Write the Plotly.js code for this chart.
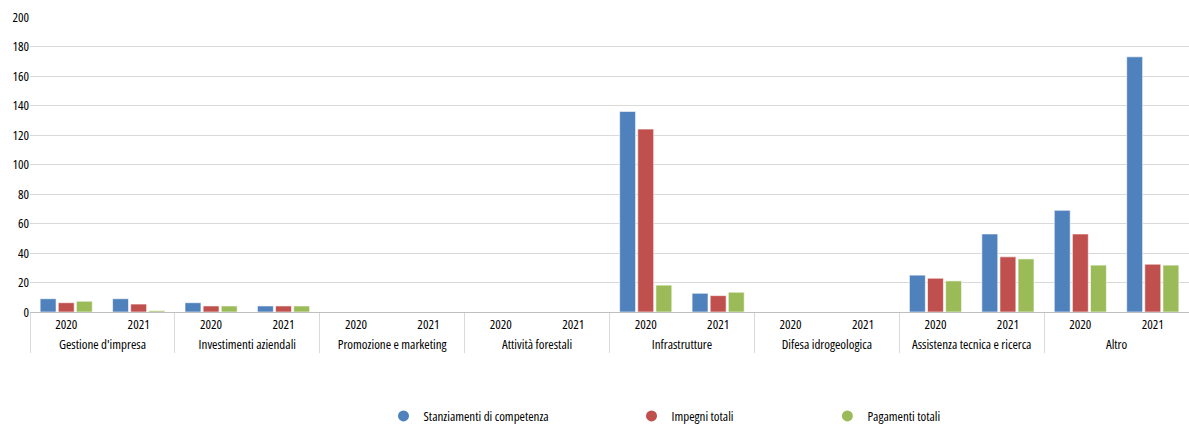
<!DOCTYPE html>
<html>
<head>
<meta charset="utf-8">
<script src="https://cdn.plot.ly/plotly-3.0.1.min.js"></script>
<style>
  html, body { margin: 0; padding: 0; background: #fff; }
  #chart { width: 1189px; height: 425px; }
  /* narrow lettering for all chart text (also used when Plotly measures labels) */
  svg text { font-stretch: 75% !important; }
</style>
</head>
<body>
<div id="chart"></div>
<script>
// Categories (outer level) and years (inner level)
const categories = [
  "Gestione d'impresa", "Investimenti aziendali", "Promozione e marketing",
  "Attività forestali", "Infrastrutture", "Difesa idrogeologica",
  "Assistenza tecnica e ricerca", "Altro"
];
const years = ["2020", "2021"];

// Values per category/year pair, in the order of the x axis below
const stanziamenti = [9.0, 9.0, 6.3, 4.1, 0, 0, 0, 0, 136, 12.7, 0, 0, 25.0, 52.9, 68.9, 173];
const impegni      = [6.3, 5.4, 4.1, 4.1, 0, 0, 0, 0, 124, 11.1, 0, 0, 22.9, 37.4, 52.9, 32.4];
const pagamenti    = [7.3, 0.9, 4.1, 4.1, 0, 0, 0, 0, 18.2, 13.4, 0, 0, 21.1, 36.0, 31.8, 31.8];

const seriesNames = ["Stanziamenti di competenza", "Impegni totali", "Pagamenti totali"];
const seriesColors = ["#4F81BD", "#C0504D", "#9BBB59"];
const seriesValues = [stanziamenti, impegni, pagamenti];

const outer = [], inner = [];
categories.forEach(c => years.forEach(y => { outer.push(c); inner.push(y); }));

const font = "'Open Sans', sans-serif";

const traces = [];
seriesValues.forEach((vals, i) => {
  traces.push({
    type: "bar",
    x: [outer, inner],
    y: vals,
    name: seriesNames[i],
    marker: { color: seriesColors[i], line: { color: "rgba(255,255,255,0.6)", width: 1 } },
    showlegend: false,
    hoverinfo: "y+name"
  });
});
// Round legend markers, one legend per series
const legendX = [0.305, 0.519, 0.688];
seriesNames.forEach((n, i) => {
  traces.push({
    type: "scatter",
    mode: "markers",
    x: [null], y: [null],
    name: n,
    marker: { color: seriesColors[i], size: 11, symbol: "circle" },
    showlegend: true,
    legend: i === 0 ? "legend" : "legend" + (i + 1)
  });
});

const legendBase = {
  orientation: "h",
  xref: "paper", yref: "paper",
  y: -0.3525, yanchor: "middle", xanchor: "left",
  font: { family: font, size: 13, color: "#000" },
  bgcolor: "rgba(0,0,0,0)",
  itemwidth: 30
};

const layout = {
  width: 1189, height: 425,
  margin: { l: 30, r: 0, t: 17, b: 113, autoexpand: false },
  paper_bgcolor: "#fff", plot_bgcolor: "#fff",
  font: { family: font, size: 13, color: "#000" },
  barmode: "group",
  bargap: 0.25,
  bargroupgap: 0.12,
  xaxis: {
    type: "multicategory",
    showline: true, linecolor: "#bfbfbf", linewidth: 1,
    showgrid: false,
    ticks: "",
    tickangle: 0,
    automargin: false,
    showdividers: true, dividercolor: "#d9d9d9", dividerwidth: 1,
    tickfont: { family: font, size: 13, color: "#000" }
  },
  yaxis: {
    range: [0, 200], dtick: 20,
    showgrid: true, gridcolor: "#d9d9d9", gridwidth: 1,
    zeroline: false, showline: false,
    ticks: "", ticklen: 0,
    automargin: false,
    tickfont: { family: font, size: 13, color: "#000" }
  },
  legend: Object.assign({}, legendBase, { x: legendX[0] }),
  legend2: Object.assign({}, legendBase, { x: legendX[1] }),
  legend3: Object.assign({}, legendBase, { x: legendX[2] })
};

Plotly.newPlot("chart", traces, layout, { displayModeBar: false, staticPlot: true });
</script>
</body>
</html>
